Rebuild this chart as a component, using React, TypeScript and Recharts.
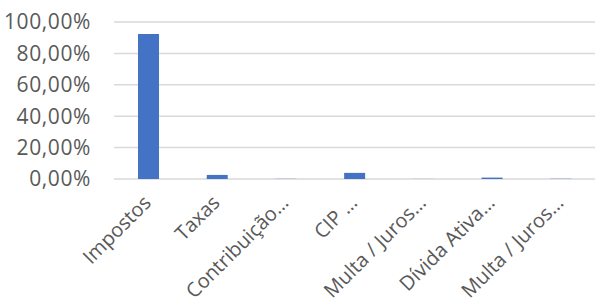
import React from "react";
import { BarChart, Bar, XAxis, YAxis, CartesianGrid } from "recharts";

const categories = [
    "Impostos",
    "Taxas",
    "Contribuição…",
    "CIP …",
    "Multa / Juros…",
    "Dívida Ativa…",
    "Multa / Juros…",
];
const shares = [0.923, 0.026, 0.001, 0.039, 0.0005, 0.009, 0.0015];
const yTicks = [0, 0.2, 0.4, 0.6, 0.8, 1];

const data = categories.map((name, i) => ({ key: `c${i}`, name, value: shares[i] }));

const fmtPct = (v: number) => (v * 100).toFixed(2).replace(".", ",") + "%";

const XTick = (props: any) => {
    const { x, y, payload } = props;
    const label = data[payload.index]?.name ?? "";
    return (
        <g transform={`translate(${x + 4},${y + 17})`}>
            <text
                transform="rotate(-45)"
                textAnchor="end"
                fill="#595959"
                fontSize={20}
                fontFamily="Open Sans">
                {label}
            </text>
        </g>
    );
};

export default function App() {
    return (
        <div style={{ position: "absolute", left: 0, top: 0, background: "#fff" }}>
            <BarChart
                width={595}
                height={298}
                data={data}
                margin={{ top: 22, right: 0, bottom: 0, left: 0 }}>
                <CartesianGrid vertical={false} stroke="#d9d9d9" strokeWidth={1.5} />
                <XAxis
                    dataKey="key"
                    height={119}
                    axisLine={false}
                    tickLine={false}
                    interval={0}
                    tick={<XTick />}
                />
                <YAxis
                    width={114}
                    domain={[0, 1]}
                    ticks={yTicks}
                    tickFormatter={fmtPct}
                    axisLine={false}
                    tickLine={false}
                    tickSize={0}
                    tickMargin={23}
                    tick={{
                        fill: "#595959",
                        fontSize: 21,
                        fontFamily: "Open Sans",
                        letterSpacing: 0.6,
                    }}
                />
                <Bar dataKey="value" fill="#4472c4" barSize={21} isAnimationActive={false} />
            </BarChart>
        </div>
    );
}
